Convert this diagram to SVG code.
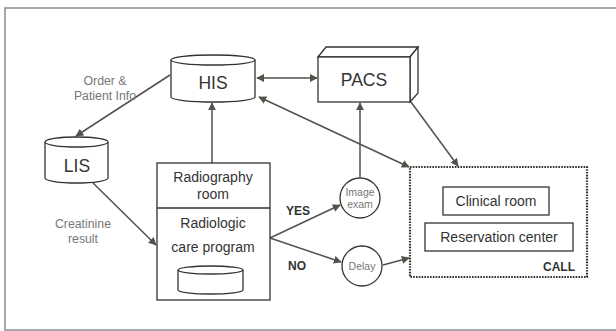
<svg xmlns="http://www.w3.org/2000/svg" width="616" height="331" viewBox="0 0 616 331">
<defs>
<style>
.frame{fill:none;stroke:#8a8a8a;stroke-width:1.5}
.shape{fill:#fff;stroke:#333;stroke-width:1.3}
.edge{fill:none;stroke:#55504a;stroke-width:1.5}
.dot{fill:none;stroke:#333;stroke-width:2.2;stroke-dasharray:1.6 1.2}
text{font-family:"Liberation Sans",Arial,sans-serif;text-anchor:middle;fill:#333}
.big{font-size:17.5px}
.mid{font-size:14px}
.sm{font-size:12.3px;fill:#777}
.tiny{font-size:10.5px;fill:#777}
.bold{font-size:12px;font-weight:bold;fill:#333}
</style>
<marker id="ah" viewBox="0 0 10 10" refX="9" refY="5" markerWidth="8" markerHeight="8" markerUnits="userSpaceOnUse" orient="auto-start-reverse">
<path d="M0,0 L10,5 L0,10 z" fill="#55504a"/>
</marker>
</defs>
<rect width="616" height="331" fill="#fff"/>
<rect class="frame" x="5" y="8" width="620" height="322"/>

<g id="connectors">
<line class="edge" x1="170" y1="75" x2="76" y2="136" marker-end="url(#ah)"/>
<line class="edge" x1="257" y1="78" x2="317" y2="78" marker-start="url(#ah)" marker-end="url(#ah)"/>
<line class="edge" x1="259" y1="97" x2="409" y2="167" marker-start="url(#ah)" marker-end="url(#ah)"/>
<line class="edge" x1="212" y1="163" x2="212" y2="103" marker-end="url(#ah)"/>
<line class="edge" x1="360" y1="177" x2="360" y2="103" marker-end="url(#ah)"/>
<line class="edge" x1="411" y1="102" x2="458" y2="166" marker-end="url(#ah)"/>
<line class="edge" x1="93" y1="183" x2="156" y2="245" marker-end="url(#ah)"/>
<line class="edge" x1="270" y1="238" x2="340" y2="205" marker-end="url(#ah)"/>
<line class="edge" x1="270" y1="238" x2="341" y2="262" marker-end="url(#ah)"/>
<line class="edge" x1="383" y1="265" x2="409" y2="258" marker-end="url(#ah)"/>
<text class="sm" x="105" y="85">Order &amp;</text>
<text class="sm" x="105" y="100">Patient Info</text>
<text class="sm" x="83" y="228">Creatinine</text>
<text class="sm" x="83" y="243">result</text>
<text class="bold" x="298" y="215">YES</text>
<text class="bold" x="297" y="270">NO</text>
</g>

<g id="his">
<path class="shape" d="M171,60 L171,97 A42,5 0 0 0 255,97 L255,60"/>
<ellipse class="shape" cx="213" cy="60" rx="42" ry="5"/>
<text class="big" x="213" y="89">HIS</text>
</g>

<g id="pacs">
<polygon class="shape" points="318,57 326,47 418,47 410,57"/>
<polygon class="shape" points="410,57 418,47 418,93 410,102"/>
<rect class="shape" x="318" y="57" width="92" height="45"/>
<text class="big" x="364" y="86">PACS</text>
</g>

<g id="lis">
<path class="shape" d="M45,142 L45,178 A31.5,5 0 0 0 108,178 L108,142"/>
<ellipse class="shape" cx="76.5" cy="142" rx="31.5" ry="5"/>
<text class="big" x="77" y="172">LIS</text>
</g>

<g id="radiography">
<rect class="shape" x="157" y="163" width="113" height="137"/>
<line class="shape" x1="157" y1="208" x2="270" y2="208"/>
<text class="mid" x="213" y="182">Radiography</text>
<text class="mid" x="213" y="199">room</text>
<text class="mid" x="213" y="228">Radiologic</text>
<text class="mid" x="213" y="252">care program</text>
<path class="shape" d="M178,270 L178,290 A32.5,4 0 0 0 243,290 L243,270"/>
<ellipse class="shape" cx="210.5" cy="270" rx="32.5" ry="4"/>
</g>

<g id="image-exam">
<circle class="shape" cx="360" cy="198" r="20"/>
<text class="tiny" x="360" y="196">Image</text>
<text class="tiny" x="360" y="208">exam</text>
</g>

<g id="delay">
<circle class="shape" cx="362" cy="266" r="20"/>
<text class="tiny" x="362" y="270">Delay</text>
</g>

<g id="call">
<rect class="dot" x="410" y="167" width="177" height="110"/>
<rect class="shape" x="443" y="187" width="106" height="28"/>
<text class="mid" x="496" y="206">Clinical room</text>
<rect class="shape" x="425" y="223" width="148" height="28"/>
<text class="mid" x="499" y="242">Reservation center</text>
<text class="bold" x="575" y="271" style="text-anchor:end">CALL</text>
</g>
</svg>
